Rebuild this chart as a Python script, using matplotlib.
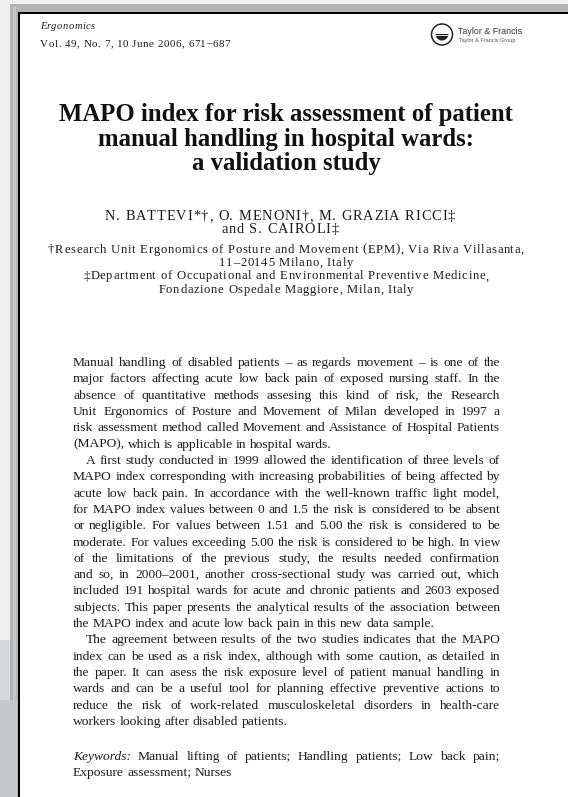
import matplotlib
matplotlib.use("Agg")
import matplotlib.pyplot as plt
from matplotlib.patches import Rectangle, Circle, Wedge

# ---------------- text content ----------------
journal_name = "Ergonomics"
journal_issue = "Vol. 49, No. 7, 10 June 2006, 671\u2013687"
publisher = "Taylor & Francis"
publisher_group = "Taylor & Francis Group"

title_lines = [
    "MAPO index for risk assessment of patient",
    "manual handling in hospital wards:",
    "a validation study",
]
author_lines = [
    "N. BATTEVI*\u2020, O. MENONI\u2020, M. GRAZIA RICCI\u2021",
    "and S. CAIROLI\u2021",
]
affiliation_lines = [
    "\u2020Research Unit Ergonomics of Posture and Movement (EPM), Via Riva Villasanta,",
    "11\u201320145 Milano, Italy",
    "\u2021Department of Occupational and Environmental Preventive Medicine,",
    "Fondazione Ospedale Maggiore, Milan, Italy",
]
paragraph_1 = [
    "Manual handling of disabled patients \u2013 as regards movement \u2013 is one of the",
    "major factors affecting acute low back pain of exposed nursing staff. In the",
    "absence of quantitative methods assesing this kind of risk, the Research",
    "Unit Ergonomics of Posture and Movement of Milan developed in 1997 a",
    "risk assessment method called Movement and Assistance of Hospital Patients",
    "(MAPO), which is applicable in hospital wards.",
]
paragraph_2 = [
    "A first study conducted in 1999 allowed the identification of three levels of",
    "MAPO index corresponding with increasing probabilities of being affected by",
    "acute low back pain. In accordance with the well-known traffic light model,",
    "for MAPO index values between 0 and 1.5 the risk is considered to be absent",
    "or negligible. For values between 1.51 and 5.00 the risk is considered to be",
    "moderate. For values exceeding 5.00 the risk is considered to be high. In view",
    "of the limitations of the previous study, the results needed confirmation",
    "and so, in 2000\u20132001, another cross-sectional study was carried out, which",
    "included 191 hospital wards for acute and chronic patients and 2603 exposed",
    "subjects. This paper presents the analytical results of the association between",
    "the MAPO index and acute low back pain in this new data sample.",
]
paragraph_3 = [
    "The agreement between results of the two studies indicates that the MAPO",
    "index can be used as a risk index, although with some caution, as detailed in",
    "the paper. It can asess the risk exposure level of patient manual handling in",
    "wards and can be a useful tool for planning effective preventive actions to",
    "reduce the risk of work-related musculoskeletal disorders in health-care",
    "workers looking after disabled patients.",
]
keywords_label = "Keywords:"
keyword_lines = [
    "Manual lifting of patients; Handling patients; Low back pain;",
    "Exposure assessment; Nurses",
]

# ---------------- figure ----------------
W, H = 568, 797
fig = plt.figure(figsize=(W / 100, H / 100), dpi=100)
fig.patch.set_facecolor("#efefef")
ax = fig.add_axes([0, 0, 1, 1])
ax.set_xlim(0, W)
ax.set_ylim(H, 0)
ax.axis("off")

SERIF = ["Liberation Serif", "DejaVu Serif"]
SANS = ["Liberation Sans", "DejaVu Sans"]
INK = "#1c1c1c"

# frame
ax.add_patch(Rectangle((10, 4), W, H, facecolor="#b4b4b4", edgecolor="none"))
ax.add_patch(Rectangle((13, 7), 3, H, facecolor="#c8c8c8", edgecolor="none"))
ax.add_patch(Rectangle((18, 12), W, H, facecolor="#000000", edgecolor="none"))
ax.add_patch(Rectangle((20, 14), W, H, facecolor="white", edgecolor="none"))
# background remnants bottom-left
ax.add_patch(Rectangle((0, 640), 10, H, facecolor="#d6d8d9", edgecolor="none"))
ax.add_patch(Rectangle((0, 700), 17, H, facecolor="#c5c9cb", edgecolor="none"))

fig.canvas.draw()
renderer = fig.canvas.get_renderer()
px_per_unit = fig.bbox.width / W


def text_width(t):
    return t.get_window_extent(renderer).width / px_per_unit


def measure(s, fs, **kw):
    t = ax.text(0, 0, s, fontsize=fs, **kw)
    w = text_width(t)
    t.remove()
    return w


def fit_size(s, target, **kw):
    return 10 * target / measure(s, 10, **kw)


_adv_cache = {}


def advances(s, fs, **kw):
    key_base = (fs, tuple(sorted((k, str(v)) for k, v in kw.items())))
    base = measure("ll", fs, **kw)
    out = []
    for c in s:
        key = key_base + (c,)
        if key not in _adv_cache:
            _adv_cache[key] = measure("l" + c + "l", fs, **kw) - base
        out.append(_adv_cache[key])
    return out


def tracking_for(s, fs, target, **kw):
    adv = advances(s, fs, **kw)
    return (target - sum(adv)) / (len(s) - 1)


def tracked(s, x, y, fs, extra, ha="center", color=INK, **kw):
    adv = advances(s, fs, **kw)
    total = sum(adv) + extra * (len(s) - 1)
    x0 = x - total / 2 if ha == "center" else x
    for c, a in zip(s, adv):
        if not c.isspace():
            ax.text(x0, y, c, fontsize=fs, ha="left", va="baseline", color=color, **kw)
        x0 += a + extra


CX = 286

# header
issue_fs = 7.9
tr = tracking_for(journal_issue, issue_fs, 190, family=SERIF)
tracked(journal_issue, 40, 46.5, issue_fs, tr, ha="left", family=SERIF)
name_fs = 7.6
tr = tracking_for(journal_name, name_fs, 55, family=SERIF, style="italic")
tracked(journal_name, 40, 29, name_fs, tr, ha="left", family=SERIF, style="italic")

# logo
ax.add_patch(Circle((442, 34.5), 10.5, facecolor="none", edgecolor="#222222", lw=1.1))
ax.add_patch(Wedge((442, 34), 6.5, 0, 180, facecolor="#222222", edgecolor="none"))
ax.plot([434, 450], [34.5, 34.5], color="white", lw=0.6)
ax.text(458, 33.5, publisher, family=SANS, fontsize=fit_size(publisher, 64, family=SANS),
        color="#333333", va="baseline", ha="left")
ax.text(459, 41.5, publisher_group, family=SANS,
        fontsize=fit_size(publisher_group, 56, family=SANS), color="#555555",
        va="baseline", ha="left")

# title
title_fs = fit_size(title_lines[0], 456, family=SERIF, weight="bold")
title_base = [121, 145.5, 170]
for line, yb in zip(title_lines, title_base):
    ax.text(CX, yb, line, family=SERIF, weight="bold", fontsize=title_fs,
            color="#111111", ha="center", va="baseline")

# authors (slightly letter-spaced as in the scanned page)
author_fs = 10.4
tr = tracking_for(author_lines[0], author_fs, 350, family=SERIF)
for i, line in enumerate(author_lines):
    tracked(line, 280, 220 + i * 12.8, author_fs, tr, family=SERIF)

# affiliations
aff_fs = 9.1
tr = tracking_for(affiliation_lines[0], aff_fs, 476, family=SERIF)
for i, line in enumerate(affiliation_lines):
    tracked(line, CX, 252.5 + i * 13.4, aff_fs, tr, family=SERIF)


def place_line(segments, x0, x1, y, fontsize, justify):
    """segments: list of (text, style)"""
    words = []
    for seg, style in segments:
        for w in seg.split():
            words.append((w, style))
    objs = []
    for w, style in words:
        t = ax.text(x0, y, w, family=SERIF, style=style, fontsize=fontsize,
                    color=INK, ha="left", va="baseline")
        objs.append(t)
    widths = [text_width(t) for t in objs]
    sw = measure("a a", fontsize, family=SERIF) - measure("aa", fontsize, family=SERIF)
    if justify and len(objs) > 1:
        gap = (x1 - x0 - sum(widths)) / (len(objs) - 1)
    else:
        gap = sw
    x = x0
    for t, w in zip(objs, widths):
        t.set_x(x)
        x += w + gap


BX0, BX1 = 73, 500
INDENT = 13
paragraphs = [paragraph_1, paragraph_2, paragraph_3]

# choose body font size so that the widest full line fits the measure
ratios = []
for p_idx, para in enumerate(paragraphs):
    for j, line in enumerate(para[:-1]):
        avail = BX1 - BX0 - (INDENT if (j == 0 and p_idx > 0) else 0)
        ratios.append(fit_size(line, avail, family=SERIF))
BODY_FS = min(min(ratios) * 0.985, 10.2)

Y0, DY = 366, 16.32
row = 0
for p_idx, para in enumerate(paragraphs):
    for j, line in enumerate(para):
        x0 = BX0 + (INDENT if (j == 0 and p_idx > 0) else 0)
        last = j == len(para) - 1
        place_line([(line, "normal")], x0, BX1, Y0 + row * DY, BODY_FS, not last)
        row += 1

KY = 760
place_line([(keywords_label, "italic"), (keyword_lines[0], "normal")],
           BX0, BX1, KY, BODY_FS, True)
place_line([(keyword_lines[1], "normal")], BX0, BX1, KY + DY, BODY_FS, False)

fig.savefig("out.png", dpi=100, facecolor=fig.get_facecolor())
